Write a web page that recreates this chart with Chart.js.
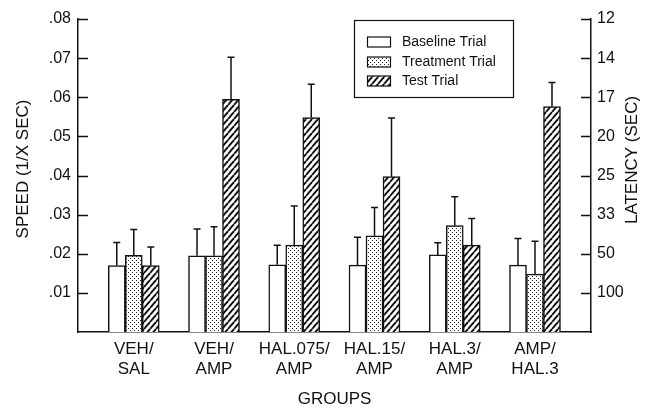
<!DOCTYPE html>
<html>
<head>
<meta charset="utf-8">
<script src="https://cdn.jsdelivr.net/npm/chart.js@4"></script>
<style>
  html, body { margin: 0; padding: 0; background: #fff; }
</style>
</head>
<body>
<canvas id="myChart" width="652" height="408"></canvas>
<script>
// data
const groups = [['VEH/', 'SAL'], ['VEH/', 'AMP'], ['HAL.075/', 'AMP'], ['HAL.15/', 'AMP'], ['HAL.3/', 'AMP'], ['AMP/', 'HAL.3']];
const trials = ['Baseline Trial', 'Treatment Trial', 'Test Trial'];
const baseline  = [0.0170, 0.0195, 0.0172, 0.0171, 0.0197, 0.0171];
const treatment = [0.0196, 0.0195, 0.0222, 0.0246, 0.0272, 0.0148];
const test      = [0.0170, 0.0595, 0.0548, 0.0397, 0.0222, 0.0576];
const baselineErr  = [0.0059, 0.0068, 0.0050, 0.0071, 0.0031, 0.0068];
const treatmentErr = [0.0066, 0.0074, 0.0100, 0.0072, 0.0074, 0.0084];
const testErr      = [0.0047, 0.0107, 0.0085, 0.0150, 0.0068, 0.0062];
const speedTicks = [0.01, 0.02, 0.03, 0.04, 0.05, 0.06, 0.07, 0.08];
const latencyTicks = ['100', '50', '33', '25', '20', '17', '14', '12'];

const FONT = '"Liberation Sans", Arial, Helvetica, sans-serif';
const INK = '#111';
Chart.defaults.font.family = FONT;
Chart.defaults.color = INK;

const canvas = document.getElementById('myChart');
const c0 = canvas.getContext('2d');

// fill patterns
function dotPattern() {
  const c = document.createElement('canvas');
  c.width = 4; c.height = 4;
  const g = c.getContext('2d');
  g.fillStyle = '#fff'; g.fillRect(0, 0, 4, 4);
  g.fillStyle = '#222';
  g.fillRect(0, 0, 1, 1);
  g.fillRect(2, 2, 1, 1);
  return c0.createPattern(c, 'repeat');
}
function hatchPattern() {
  const w = 6, h = 7;
  const c = document.createElement('canvas');
  c.width = w; c.height = h;
  const g = c.getContext('2d');
  g.fillStyle = '#fff'; g.fillRect(0, 0, w, h);
  g.strokeStyle = INK; g.lineWidth = 1.9;
  [-w, 0, w].forEach(x0 => {
    g.beginPath(); g.moveTo(x0, h); g.lineTo(x0 + w, 0); g.stroke();
  });
  return c0.createPattern(c, 'repeat');
}

const fills = ['#fff', dotPattern(), hatchPattern()];
const series = [baseline, treatment, test];
const errors = [baselineErr, treatmentErr, testErr];

const data = {
  datasets: series.map((vals, k) => ({
    label: trials[k],
    data: vals.map((v, i) => ({ x: i, y: v })),
    backgroundColor: fills[k],
    borderColor: INK,
    borderWidth: 1.5,
    barThickness: 17,
    yAxisID: 'y'
  }))
};

// error bars, inward ticks, axis titles, boxed legend
const decor = {
  id: 'decor',
  afterDatasetsDraw(chart) {
    const { ctx } = chart;
    const ys = chart.scales.y;
    ctx.save();
    ctx.strokeStyle = INK;
    ctx.lineWidth = 1.5;
    chart.data.datasets.forEach((ds, k) => {
      chart.getDatasetMeta(k).data.forEach((bar, i) => {
        const top = ys.getPixelForValue(series[k][i] + errors[k][i]);
        ctx.beginPath();
        ctx.moveTo(bar.x, bar.y);
        ctx.lineTo(bar.x, top);
        ctx.moveTo(bar.x - 3.5, top);
        ctx.lineTo(bar.x + 3.5, top);
        ctx.stroke();
      });
    });
    ctx.restore();
  },
  afterDraw(chart) {
    const { ctx, chartArea } = chart;
    const ys = chart.scales.y;
    ctx.save();
    ctx.strokeStyle = INK;
    ctx.lineWidth = 1.5;
    speedTicks.forEach(v => {
      const py = Math.round(ys.getPixelForValue(v)) + 0.5;
      ctx.beginPath();
      ctx.moveTo(chartArea.left, py); ctx.lineTo(chartArea.left + 10, py);
      ctx.moveTo(chartArea.right - 10, py); ctx.lineTo(chartArea.right, py);
      ctx.stroke();
    });

    // axis titles (both read bottom to top)
    ctx.fillStyle = INK;
    ctx.font = '17px ' + FONT;
    ctx.textAlign = 'center';
    ctx.textBaseline = 'middle';
    [[23, 169, 'SPEED (1/X SEC)'], [632, 160, 'LATENCY (SEC)']].forEach(([x, y, t]) => {
      ctx.save();
      ctx.translate(x, y);
      ctx.rotate(-Math.PI / 2);
      ctx.fillText(t, 0, 0);
      ctx.restore();
    });

    // legend
    ctx.lineWidth = 1.2;
    ctx.fillStyle = '#fff';
    ctx.fillRect(354.5, 20.5, 159, 77);
    ctx.strokeRect(354.5, 20.5, 159, 77);
    ctx.font = '14px ' + FONT;
    ctx.textAlign = 'left';
    const rows = [42, 62, 81];
    chart.data.datasets.forEach((ds, k) => {
      ctx.fillStyle = ds.backgroundColor;
      ctx.fillRect(367.5, rows[k] - 5, 23, 10);
      ctx.strokeRect(367.5, rows[k] - 5, 23, 10);
      ctx.fillStyle = INK;
      ctx.fillText(ds.label, 402, rows[k] + 0.5);
    });
    ctx.restore();
  }
};

const axisBorder = { display: true, color: INK, width: 1.5 };
const noGrid = { display: false, drawTicks: false };

const config = {
  type: 'bar',
  data,
  options: {
    responsive: false,
    animation: false,
    layout: { padding: { top: 19 } },
    plugins: { legend: { display: false }, tooltip: { enabled: false } },
    scales: {
      x: {
        type: 'linear',
        position: 'bottom',
        min: -0.695,
        max: 5.698,
        offset: false,
        bounds: 'data',
        grid: noGrid,
        border: axisBorder,
        ticks: {
          autoSkip: false, maxRotation: 0, padding: 7,
          font: { size: 17 },
          callback: v => groups[v] || ''
        },
        afterBuildTicks: s => { s.ticks = groups.map((g, i) => ({ value: i })); },
        afterFit: s => { s.height = 76; },
        title: { display: true, text: 'GROUPS', font: { size: 17, lineHeight: 1 }, padding: 0 }
      },
      y: {
        position: 'left',
        min: 0,
        max: 0.08,
        grid: noGrid,
        border: axisBorder,
        ticks: {
          stepSize: 0.01, padding: 7,
          font: { size: 16 },
          callback: v => v <= 0.001 ? '' : v.toFixed(2).slice(1)
        },
        afterFit: s => { s.width = 78; }
      },
      y2: {
        position: 'right',
        min: 0,
        max: 0.08,
        grid: noGrid,
        border: axisBorder,
        ticks: {
          stepSize: 0.01, padding: 6,
          font: { size: 16 },
          callback: v => {
            const i = Math.round(v * 100) - 1;
            return i < 0 ? '' : latencyTicks[i];
          }
        },
        afterFit: s => { s.width = 61; }
      }
    }
  },
  plugins: [decor]
};

const myChart = new Chart(canvas, config);
</script>
</body>
</html>
